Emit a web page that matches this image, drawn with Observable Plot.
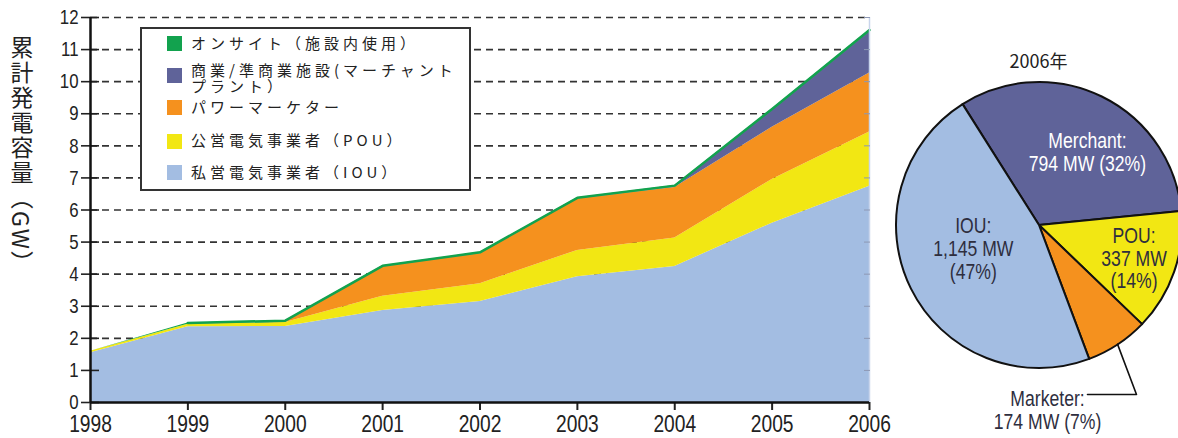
<!DOCTYPE html>
<html>
<head>
<meta charset="utf-8">
<script src="https://cdn.jsdelivr.net/npm/d3@7"></script>
<script src="https://cdn.jsdelivr.net/npm/@observablehq/plot@0.6"></script>
<style>
  body { margin: 0; background: #fff; }
  #wrap { position: relative; width: 1178px; height: 438px; overflow: hidden; background: #fff; }
  #main { position: absolute; left: 0; top: 0; }
  #pie { position: absolute; left: 892px; top: 0; }
  #ylabel { position: absolute; left: 10px; top: 36px; writing-mode: vertical-rl; text-orientation: mixed;
            font-family: "Noto Sans CJK JP", sans-serif; font-size: 23px; letter-spacing: 2px; line-height: 1; color: #222; }
  #legend { position: absolute; left: 140px; top: 27px; width: 327px; height: 160px; border: 2px solid #333; background: #fff;
            font-family: "Noto Sans CJK JP", sans-serif; }
  .sw { position: absolute; left: 25px; width: 15px; height: 15px; }
  .lab { position: absolute; left: 49px; font-size: 15px; letter-spacing: 4px; line-height: 16px; white-space: pre; color: #222; }
</style>
</head>
<body>
<div id="wrap">
  <div id="main"></div>
  <div id="pie"></div>
  <div id="ylabel"></div>
  <div id="legend"></div>
</div>
<script>
// ---------------- data ----------------
const years = [1998, 1999, 2000, 2001, 2002, 2003, 2004, 2005, 2006];
// cumulative capacity by segment (GW), stacked bottom -> top
const iou      = [1.55, 2.36, 2.37, 2.87, 3.15, 3.92, 4.24, 5.59, 6.74];
const pou      = [0.05, 0.08, 0.12, 0.44, 0.55, 0.82, 0.89, 1.36, 1.69];
const marketer = [0.00, 0.00, 0.01, 0.91, 0.94, 1.60, 1.57, 1.63, 1.84];
const merchant = [0.00, 0.00, 0.00, 0.00, 0.00, 0.00, 0.02, 0.52, 1.28];
const onsite   = [0.00, 0.04, 0.05, 0.04, 0.04, 0.04, 0.04, 0.05, 0.06];

const seriesKeys   = ["IOU", "POU", "Marketer", "Merchant", "Onsite"];
const seriesValues = [iou, pou, marketer, merchant, onsite];
const seriesColors = ["#a3bde2", "#f2e713", "#f5911e", "#5f6399", "#12a24e"];
const seriesLabels = ["私営電気事業者（IOU）", "公営電気事業者（POU）", "パワーマーケター",
                      "商業/準商業施設(マーチャント\nプラント）", "オンサイト（施設内使用）"];

const yTicks = [0, 1, 2, 3, 4, 5, 6, 7, 8, 9, 10, 11, 12];
const yAxisLabel = "累計発電容量（GW）";

// pie: 2006 additions
const pieTitle = "2006年";
const pieKeys   = ["Merchant", "POU", "Marketer", "IOU"];
const pieValues = [794, 337, 174, 1145];
const pieColors = ["#5f6399", "#f2e713", "#f5911e", "#a3bde2"];
const pieLabels = ["Merchant:\n794 MW (32%)", "POU:\n337 MW\n(14%)", "Marketer:\n174 MW (7%)", "IOU:\n1,145 MW\n(47%)"];

// ---------------- helpers ----------------
const numFont = '"Liberation Sans", Arial, sans-serif';
// condense glyphs horizontally to mimic a narrow grotesque
function condense(svg, factor) {
  svg.querySelectorAll("text").forEach(t => {
    if (t.getAttribute("data-keep")) return;
    const spans = t.querySelectorAll("tspan");
    const els = spans.length ? Array.from(spans) : [t];
    els.forEach(el => {
      const len = el.getComputedTextLength();
      if (len > 0) {
        el.setAttribute("textLength", (len * factor).toFixed(2));
        el.setAttribute("lengthAdjust", "spacingAndGlyphs");
      }
    });
  });
}

// ---------------- main area chart ----------------
const rows = [];
years.forEach((yr, i) => seriesKeys.forEach((k, j) => rows.push({year: yr, series: k, value: seriesValues[j][i]})));
const totals = years.map((yr, i) => ({year: yr, total: d3.sum(seriesValues, v => v[i])})).filter(d => d.year >= 1999);

const main = Plot.plot({
  width: 900, height: 438,
  marginLeft: 90, marginRight: 31, marginTop: 17, marginBottom: 36,
  style: {fontFamily: numFont, color: "#222", background: "transparent"},
  x: {domain: [1998, 2006]},
  y: {domain: [0, 12]},
  color: {domain: seriesKeys, range: seriesColors},
  marks: [
    Plot.ruleY(yTicks.slice(1), {x1: 1998, x2: 2006, stroke: "#333", strokeWidth: 1.6, strokeDasharray: "7,5"}),
    Plot.areaY(rows, {x: "year", y: "value", fill: "series"}),
    Plot.lineY(totals, {x: "year", y: "total", stroke: "#12a24e", strokeWidth: 2.5}),
    Plot.ruleX([2006], {stroke: "#c9d5ec", strokeWidth: 1.5}),
    Plot.axisY({anchor: "right", ticks: yTicks, tickSize: -6, tickFormat: () => "", stroke: "#8d98b4", label: null}),
    Plot.axisY({ticks: yTicks, tickSize: 9, tickPadding: 3, strokeWidth: 1.6, fontSize: 21, label: null}),
    Plot.axisY({ticks: yTicks, tickSize: -9, tickFormat: () => "", strokeWidth: 1.6, label: null}),
    Plot.axisX({ticks: years, tickFormat: d => String(d), tickSize: 8, tickPadding: 4, strokeWidth: 2, fontSize: 24, label: null}),
    Plot.ruleX([1998], {y1: 0, y2: 12, stroke: "#111", strokeWidth: 2.5}),
    Plot.ruleY([0], {x1: 1998, x2: 2006, stroke: "#111", strokeWidth: 2.5})
  ]
});
document.getElementById("main").appendChild(main);
condense(main, 0.8);

// ---------------- y label ----------------
document.getElementById("ylabel").textContent = yAxisLabel;

// ---------------- legend ----------------
const legend = document.getElementById("legend");
const legendOrder = [4, 3, 2, 1, 0];               // top -> bottom
const swatchTops = [6.5, 38.5, 70.5, 104.5, 135.5];
const labelTops  = [6.3, 33, 69.7, 103, 134.7];
legendOrder.forEach((j, r) => {
  const sw = document.createElement("div");
  sw.className = "sw"; sw.style.top = swatchTops[r] + "px"; sw.style.background = seriesColors[j];
  const lb = document.createElement("div");
  lb.className = "lab"; lb.style.top = labelTops[r] + "px"; lb.textContent = seriesLabels[j];
  legend.appendChild(sw); legend.appendChild(lb);
});

// ---------------- pie ----------------
const cx = 147, cy = 225, R = 143;
const startDeg = -32.3;
const arcs = d3.pie().sort(null).value(d => d)
  .startAngle(startDeg * Math.PI / 180).endAngle(startDeg * Math.PI / 180 + 2 * Math.PI)(pieValues);
const arcGen = d3.arc().innerRadius(0).outerRadius(R);
const polar = (ang, r) => [cx + r * Math.sin(ang), cy - r * Math.cos(ang)];

// label placement: radius fraction and angular shift (deg) from slice mid-angle
const labelRad   = [0.615, 0.7, null, 0.49];
const labelShift = [7, 0, 0, 7.3];
const labelColor = ["#ffffff", "#2e2e3e", "#2e2e3e", "#2e2e3e"];

const pieLabelData = arcs.map((a, i) => {
  const mid = (a.startAngle + a.endAngle) / 2;
  if (labelRad[i] == null) return {i, x: cx + 8, y: cy + 185, text: pieLabels[i], color: labelColor[i]};
  const [x, y] = polar(mid + labelShift[i] * Math.PI / 180, labelRad[i] * R);
  return {i, x, y, text: pieLabels[i], color: labelColor[i]};
});
// leader line for the small Marketer slice
const mk = arcs[2];
const mkMid = (mk.startAngle + mk.endAngle) / 2;
const edge = polar(mkMid, R - 1);
const leader = [
  {x: cx + 48, y: cy + 169},
  {x: cx + 97, y: cy + 169},
  {x: edge[0], y: edge[1]}
];

const pieMark = () => {
  const g = d3.create("svg:g");
  g.selectAll("path").data(arcs).join("path")
    .attr("transform", `translate(${cx},${cy})`)
    .attr("d", arcGen)
    .attr("fill", (d, i) => pieColors[i])
    .attr("stroke", "#111")
    .attr("stroke-width", 2)
    .attr("stroke-linejoin", "round");
  return g.node();
};

const pie = Plot.plot({
  width: 286, height: 438, margin: 0,
  style: {fontFamily: numFont, background: "transparent"},
  x: {type: "identity", axis: null},
  y: {type: "identity", axis: null},
  marks: [
    pieMark,
    Plot.line(leader, {x: "x", y: "y", stroke: "#111", strokeWidth: 1.6}),
    Plot.text(pieLabelData, {x: "x", y: "y", text: "text", fill: "color", fontSize: 22, lineHeight: 1.04, textAnchor: "middle"}),
    Plot.text([pieTitle], {x: cx - 1, y: 62, text: d => d, fontSize: 18, fill: "#222", fontFamily: '"Noto Sans CJK JP", sans-serif'})
  ]
});
document.getElementById("pie").appendChild(pie);
// condense pie labels except the title
pie.querySelectorAll("text").forEach(t => { if (t.textContent === pieTitle) t.setAttribute("data-keep", "1"); });
condense(pie, 0.8);
</script>
</body>
</html>
